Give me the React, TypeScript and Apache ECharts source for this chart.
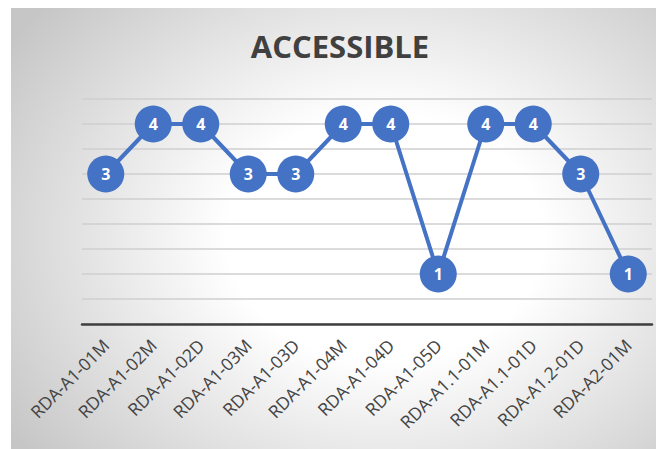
import React, { useEffect, useRef } from "react";
import * as echarts from "echarts";

const categories = [
  "RDA-A1-01M",
  "RDA-A1-02M",
  "RDA-A1-02D",
  "RDA-A1-03M",
  "RDA-A1-03D",
  "RDA-A1-04M",
  "RDA-A1-04D",
  "RDA-A1-05D",
  "RDA-A1.1-01M",
  "RDA-A1.1-01D",
  "RDA-A1.2-01D",
  "RDA-A2-01M",
];
const values = [3, 4, 4, 3, 3, 4, 4, 1, 4, 4, 3, 1];
const titleText = "ACCESSIBLE";

export default function App() {
  const ref = useRef<HTMLDivElement>(null);
  useEffect(() => {
    if (!ref.current) return;
    const chart = echarts.init(ref.current, undefined, { renderer: "svg" });
    chart.setOption({
      animation: false,
      backgroundColor: "transparent",
      graphic: [
        {
          type: "text",
          x: 340,
          y: 46,
          style: {
            text: titleText,
            fill: "#404040",
            font: "bold 31px 'Open Sans', sans-serif",
            textAlign: "center",
            textVerticalAlign: "middle",
          },
        },
      ],
      grid: { left: 82, right: 6, top: 99, bottom: 125, containLabel: false },
      xAxis: {
        type: "category",
        data: categories,
        boundaryGap: true,
        axisLine: { show: true, lineStyle: { color: "#3f3f3f", width: 2.5 } },
        axisTick: { show: false },
        axisLabel: {
          rotate: 45,
          margin: 18,
          interval: 0,
          color: "#444444",
          fontSize: 17.5,
          fontFamily: "'Open Sans', sans-serif",
        },
        splitLine: { show: false },
      },
      yAxis: {
        type: "value",
        min: 0,
        max: 4.5,
        interval: 0.5,
        axisLine: { show: false },
        axisTick: { show: false },
        axisLabel: { show: false },
        splitLine: { show: true, lineStyle: { color: "#cfcfcf", width: 1.5 } },
      },
      series: [
        {
          type: "line",
          data: values,
          symbol: "circle",
          symbolSize: 37,
          lineStyle: { color: "#4472C4", width: 4 },
          itemStyle: { color: "#4472C4" },
          label: {
            show: true,
            position: "inside",
            color: "#ffffff",
            fontWeight: "bold",
            fontSize: 16,
            fontFamily: "'Open Sans', sans-serif",
          },
        },
      ],
    });
    return () => chart.dispose();
  }, []);
  return (
    <div style={{ position: "absolute", left: 0, top: 0, width: 658, height: 449, background: "#ffffff" }}>
      <div
        style={{
          position: "absolute",
          left: 11,
          top: 8,
          width: 645,
          height: 441,
          background:
            "radial-gradient(ellipse 70% 80% at 58% 52%, #ffffff 35%, #c6c6c6 100%)",
        }}
      />
      <div ref={ref} style={{ position: "absolute", left: 0, top: 0, width: 658, height: 449 }} />
    </div>
  );
}
